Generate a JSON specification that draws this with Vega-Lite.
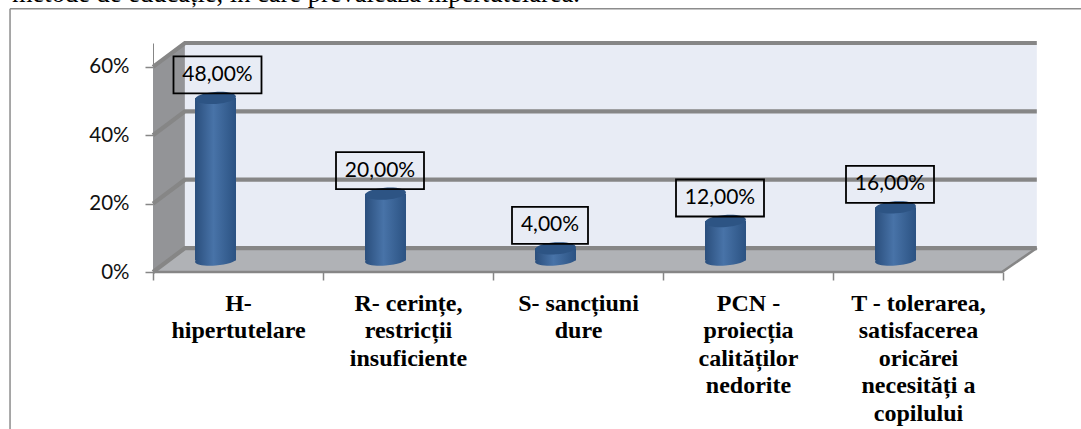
{
"$schema":"https://vega.github.io/schema/vega-lite/v6.json",
"width":885,"height":229,
"autosize":{"type":"none"},
"padding":{"left":153,"top":43,"right":43,"bottom":157},
"background":"white",
"title":{"text":"metode de educație, în care prevalează hipertutelarea.","anchor":"start","frame":"group","dx":-141,"dy":25,"baseline":"alphabetic","font":"Liberation Serif","fontSize":26.5,"fontWeight":"normal","color":"#000000"},
"config":{"view":{"stroke":null}},
"datasets":{
"rows":[
{"category":"H-|hipertutelare","value":48,"label":"48,00%"},
{"category":"R- cerințe,|restricții|insuficiente","value":20,"label":"20,00%"},
{"category":"S- sancțiuni|dure","value":4,"label":"4,00%"},
{"category":"PCN -|proiecția|calităților|nedorite","value":12,"label":"12,00%"},
{"category":"T - tolerarea,|satisfacerea|oricărei|necesități a|copilului","value":16,"label":"16,00%"}],
"walls":[
{"part":"left","u":0,"low":0,"high":60},
{"part":"left","u":0.188,"low":7,"high":67},
{"part":"back","u":0.188,"low":7,"high":67},
{"part":"back","u":5.205,"low":7,"high":67},
{"part":"floor","u":0,"low":0,"high":0},
{"part":"floor","u":0.188,"low":0,"high":7},
{"part":"floor","u":5,"low":0,"high":7},
{"part":"floor","u":5.205,"low":7,"high":7}],
"grid":[
{"g":"g60","o":1,"u":0,"v":60},{"g":"g60","o":2,"u":0.188,"v":67},{"g":"g60","o":3,"u":5.205,"v":67},
{"g":"g40","o":1,"u":0,"v":40},{"g":"g40","o":2,"u":0.188,"v":47},{"g":"g40","o":3,"u":5.205,"v":47},
{"g":"g20","o":1,"u":0,"v":20},{"g":"g20","o":2,"u":0.188,"v":27},{"g":"g20","o":3,"u":5.205,"v":27},
{"g":"g0","o":1,"u":0,"v":0},{"g":"g0","o":2,"u":0.188,"v":7},{"g":"g0","o":3,"u":5.205,"v":7}],
"front":[{"g":"f","o":1,"u":0,"v":0},{"g":"f","o":2,"u":5,"v":0},{"g":"f","o":3,"u":5.205,"v":7}],
"frame":[{"u":-0.842,"u2":5.465,"v":77.05,"v2":77.05},{"u":-0.842,"u2":-0.842,"v":77.05,"v2":-45.95}]
},
"layer":[
{"layer":[
{"data":{"name":"walls"},"transform":[{"filter":"datum.part=='left'"}],"mark":{"type":"area","color":"#939497"},
 "encoding":{"x":{"field":"u","type":"quantitative","scale":{"domain":[0,5.212],"nice":false,"zero":false},"axis":null},"y":{"field":"high","type":"quantitative","scale":{"domain":[0,67],"nice":false},"axis":{"values":[0,20,40,60],"title":null,"grid":false,"labelExpr":"datum.value+'%'","labelFont":"Lato","labelFontSize":20.5,"labelColor":"#111111","labelPadding":16,"tickSize":8,"tickColor":"#868686","domainColor":"#868686","tickWidth":1.5}},"y2":{"field":"low"}}},
{"data":{"name":"walls"},"transform":[{"filter":"datum.part=='back'"}],"mark":{"type":"area","color":"#e8ecf5"},
 "encoding":{"x":{"field":"u","type":"quantitative"},"y":{"field":"high","type":"quantitative"},"y2":{"field":"low"}}},
{"data":{"name":"walls"},"transform":[{"filter":"datum.part=='floor'"}],"mark":{"type":"area","color":"#b0b2b6"},
 "encoding":{"x":{"field":"u","type":"quantitative"},"y":{"field":"high","type":"quantitative"},"y2":{"field":"low"}}},
{"data":{"name":"grid"},"mark":{"type":"line","color":"#868686","strokeWidth":4.2,"interpolate":"linear"},
 "encoding":{"x":{"field":"u","type":"quantitative"},"y":{"field":"v","type":"quantitative"},"detail":{"field":"g"},"order":{"field":"o"}}},
{"data":{"name":"front"},"mark":{"type":"line","color":"#868686","strokeWidth":2.5},
 "encoding":{"x":{"field":"u","type":"quantitative"},"y":{"field":"v","type":"quantitative"},"order":{"field":"o"}}},
{"data":{"name":"frame"},"mark":{"type":"rule","color":"#8c8c8c","strokeWidth":1.5},
 "encoding":{"x":{"field":"u","type":"quantitative"},"x2":{"field":"u2"},"y":{"field":"v","type":"quantitative"},"y2":{"field":"v2"}}}
]},
{"data":{"name":"rows"},
 "encoding":{"x":{"field":"category","type":"nominal","sort":null,"scale":{"range":[0,850],"paddingInner":0,"paddingOuter":0},"axis":{"orient":"bottom","title":null,"domain":false,"labelAngle":0,"labelExpr":"split(datum.label,'|')","labelFont":"Liberation Serif","labelFontWeight":"bold","labelFontSize":24,"labelColor":"#000000","labelLineHeight":27.5,"labelPadding":11,"labelLimit":0,"labelOverlap":false,"tickBand":"extent","tickSize":8,"tickColor":"#868686","tickWidth":1.5,"grid":false}}},
 "layer":[
 {"mark":{"type":"point","filled":true,"opacity":1,"size":4,"xOffset":-22.5,"yOffset":-11.5,"angle":-4,"shape":"M-20.5,0A20.5,5,0,1,1,20.5,0A20.5,5,0,1,1,-20.5,0Z","color":{"gradient":"linear","x1":0,"x2":1,"y1":0,"y2":0,"stops":[{"offset":0,"color":"#2a4e7c"},{"offset":0.45,"color":"#4873a8"},{"offset":1,"color":"#2b5282"}]}},
  "encoding":{"y":{"datum":0,"type":"quantitative"}}},
 {"mark":{"type":"bar","size":41,"xOffset":-22.5,"yOffset":-10,"color":{"gradient":"linear","x1":0,"x2":1,"y1":0,"y2":0,"stops":[{"offset":0,"color":"#2a4e7c"},{"offset":0.45,"color":"#4873a8"},{"offset":1,"color":"#2b5282"}]}},
  "encoding":{"y":{"field":"value","type":"quantitative"},"y2":{"datum":3.4}}},
 {"mark":{"type":"point","filled":true,"opacity":1,"size":4,"xOffset":-22.5,"yOffset":-10,"angle":-4,"shape":"M-20.5,0A20.5,6,0,1,1,20.5,0A20.5,6,0,1,1,-20.5,0Z","color":"#2d5484"},
  "encoding":{"y":{"field":"value","type":"quantitative"}}},
 {"mark":{"type":"point","filled":false,"opacity":1,"size":4,"stroke":"#000000","strokeWidth":1.8,"yOffset":-33,"xOffset":{"expr":"datum.value==48?-20.5:-28"},"shape":{"expr":"datum.value==4?'M-38,-18.5H38V18.5H-38Z':'M-44,-18.5H44V18.5H-44Z'"}},
  "encoding":{"y":{"field":"value","type":"quantitative"}}},
 {"mark":{"type":"text","font":"Lato","fontSize":21,"color":"#000000","align":"center","baseline":"middle","yOffset":-33,"xOffset":{"expr":"datum.value==48?-20.5:-28"}},
  "encoding":{"y":{"field":"value","type":"quantitative"},"text":{"field":"label"}}}
 ]}
],
"resolve":{"scale":{"x":"independent"},"axis":{"x":"independent"}}
}
